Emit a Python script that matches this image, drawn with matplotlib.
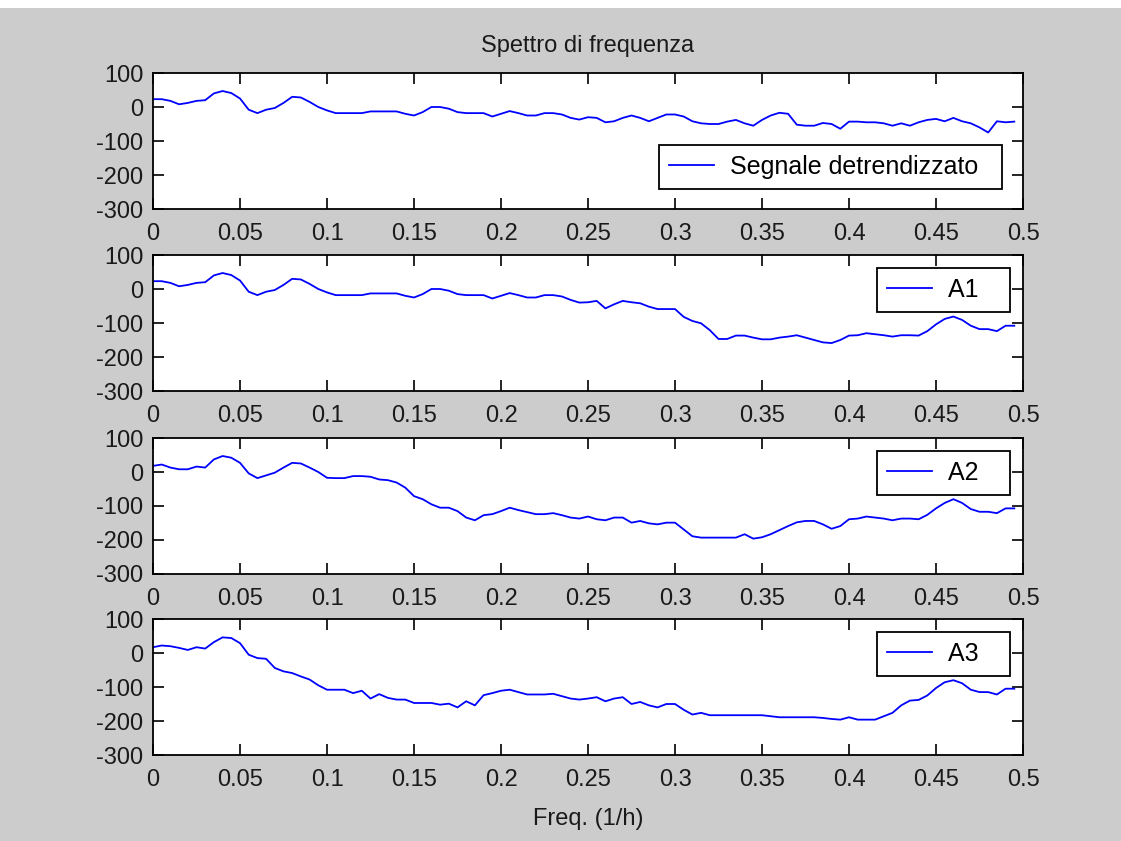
import numpy as np
import matplotlib
matplotlib.use("Agg")
import matplotlib.pyplot as plt

# Frequenze (1/h), passo 0.005 da 0 a 0.495
freq = np.arange(100) * 0.005

# Spettro del segnale detrendizzato
segnale = [23, 23, 18, 8, 12, 18, 20, 40, 47, 41,
           25, -8, -18, -8, -3, 12, 30, 28, 15, 0,
           -10, -18, -18, -18, -18, -13, -13, -13, -13, -20,
           -25, -15, 0, 0, -5, -15, -18, -18, -18, -28,
           -20, -12, -18, -25, -25, -18, -18, -22, -32, -37,
           -30, -32, -45, -42, -32, -25, -32, -42, -32, -22,
           -22, -28, -42, -48, -50, -50, -43, -38, -48, -55,
           -38, -25, -17, -20, -52, -55, -55, -47, -50, -64,
           -43, -43, -45, -45, -48, -55, -48, -55, -45, -38,
           -35, -42, -32, -42, -48, -60, -75, -42, -45, -43]

# Approssimazione A1
a1 = [23, 23, 18, 8, 12, 18, 20, 40, 47, 41,
      25, -8, -18, -8, -3, 12, 30, 28, 15, 0,
      -10, -18, -18, -18, -18, -13, -13, -13, -13, -20,
      -25, -15, 0, 0, -5, -15, -18, -18, -18, -28,
      -20, -12, -18, -25, -25, -18, -18, -22, -32, -40,
      -39, -35, -57, -45, -35, -39, -42, -52, -59, -59,
      -59, -82, -94, -101, -121, -147, -147, -137, -137, -143,
      -148, -148, -143, -140, -136, -143, -150, -157, -159, -150,
      -137, -136, -130, -133, -136, -140, -136, -136, -137, -124,
      -104, -88, -81, -91, -108, -118, -118, -124, -108, -108]

# Approssimazione A2
a2 = [18, 22, 13, 8, 8, 16, 13, 37, 47, 42,
      27, -4, -18, -10, -2, 13, 27, 25, 13, 0,
      -17, -18, -18, -12, -12, -14, -22, -24, -31, -46,
      -71, -80, -95, -105, -105, -115, -134, -142, -127, -124,
      -115, -105, -112, -118, -124, -124, -121, -127, -134, -137,
      -131, -139, -142, -134, -134, -149, -144, -151, -154, -149,
      -149, -169, -189, -193, -193, -193, -193, -193, -183, -196,
      -192, -183, -171, -159, -148, -144, -144, -154, -167, -159,
      -139, -137, -131, -134, -137, -142, -137, -137, -139, -126,
      -107, -91, -80, -91, -109, -117, -117, -121, -107, -107]

# Approssimazione A3
a3 = [17, 22, 20, 15, 9, 17, 13, 32, 46, 44,
      29, -5, -15, -17, -44, -54, -59, -69, -78, -95,
      -108, -108, -108, -118, -111, -134, -121, -132, -137, -137,
      -147, -147, -147, -152, -149, -160, -142, -154, -124, -118,
      -111, -108, -115, -122, -122, -122, -120, -127, -134, -137,
      -134, -130, -142, -134, -130, -150, -144, -154, -160, -150,
      -150, -167, -181, -176, -183, -183, -183, -183, -183, -183,
      -183, -186, -189, -189, -189, -189, -189, -191, -194, -196,
      -189, -196, -196, -196, -186, -176, -154, -140, -138, -125,
      -103, -86, -80, -89, -108, -115, -115, -122, -105, -105]

serie = [segnale, a1, a2, a3]
etichette = ["Segnale detrendizzato  ", "A1   ", "A2   ", "A3   "]
xticks = [0, 0.05, 0.1, 0.15, 0.2, 0.25, 0.3, 0.35, 0.4, 0.45, 0.5]
xticklabels = ["0", "0.05", "0.1", "0.15", "0.2", "0.25", "0.3", "0.35", "0.4", "0.45", "0.5"]
yticks = [-300, -200, -100, 0, 100]

plt.rcParams['font.family'] = ['Liberation Sans', 'DejaVu Sans']
plt.rcParams['axes.unicode_minus'] = False
fs = 17

W, H = 1121, 841
fig = plt.figure(figsize=(W / 100, H / 100), dpi=100, facecolor='white')
# sfondo grigio in stile MATLAB (bordo bianco in alto)
fig.patches.append(plt.Rectangle((0, 0), 1, 1 - 8 / H, transform=fig.transFigure,
                                 facecolor='#cccccc', edgecolor='none', zorder=-10))

sinistra, destra = 153, 1023
tops = [73, 255, 438, 619]
altezza = 136

for i, (y, lab, top) in enumerate(zip(serie, etichette, tops)):
    ax = fig.add_axes([sinistra / W, 1 - (top + altezza) / H,
                       (destra - sinistra) / W, altezza / H])
    ax.plot(freq, y, color='#0000ff', linewidth=1.3, label=lab)
    ax.set_xlim(0, 0.5)
    ax.set_ylim(-300, 100)
    ax.set_xticks(xticks)
    ax.set_xticklabels(xticklabels)
    ax.set_yticks(yticks)
    ax.tick_params(direction='in', length=8, width=1.2, top=True, right=True,
                   labelsize=fs, colors='black', labelcolor='#1a1a1a')
    ax.tick_params(axis='y', pad=7)
    ax.tick_params(axis='x', pad=10)
    for sp in ax.spines.values():
        sp.set_linewidth(1.3)
        sp.set_color('black')
    if i == 0:
        leg = ax.legend(loc='lower right', bbox_to_anchor=(1 - 21 / 870, 20 / 136),
                        borderaxespad=0, fontsize=18, handlelength=1.8,
                        handletextpad=0.65, borderpad=0.4, fancybox=False)
        ax.set_title("Spettro di frequenza", fontsize=fs, pad=15, color='#1a1a1a')
    else:
        leg = ax.legend(loc='upper right', bbox_to_anchor=(1 - 13 / 870, 1 - 13 / 136),
                        borderaxespad=0, fontsize=18, handlelength=1.8,
                        handletextpad=0.65, borderpad=0.4, fancybox=False)
    leg.get_frame().set_edgecolor('black')
    leg.get_frame().set_linewidth(1.3)
    leg.get_frame().set_alpha(1)
    if i == 3:
        ax.set_xlabel("Freq. (1/h)", fontsize=fs, labelpad=12, color='#1a1a1a')

fig.savefig("out.png", dpi=100, facecolor=fig.get_facecolor())
